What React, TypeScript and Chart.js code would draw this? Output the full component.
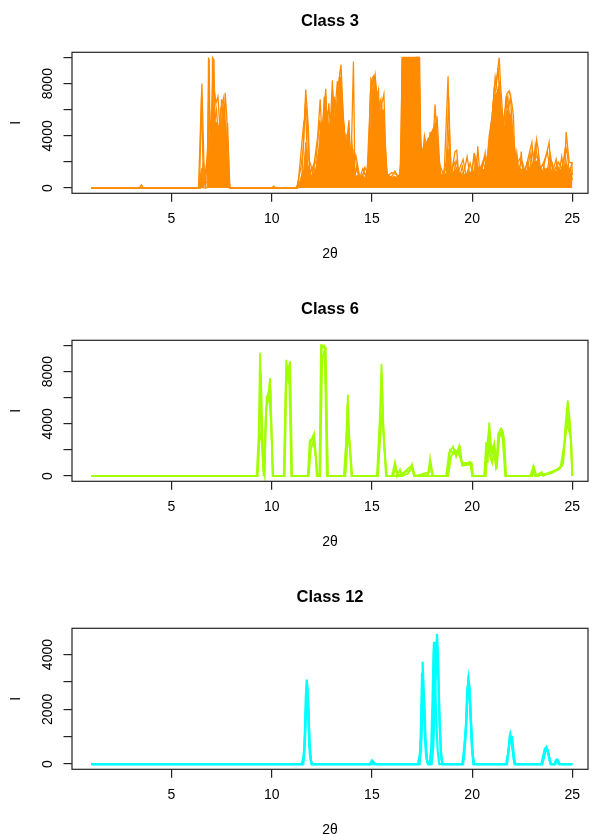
import React, { useEffect, useRef } from 'react';
import { Chart, registerables } from 'chart.js';

Chart.register(...registerables);

// ---------- axis ticks ----------
const X_TICKS = [5, 10, 15, 20, 25];
const Y_TICKS_BIG = [0, 2000, 4000, 6000, 8000, 10000];
const Y_LABELS_BIG = [0, 4000, 8000];
const Y_TICKS_SMALL = [0, 1000, 2000, 3000, 4000];
const Y_LABELS_SMALL = [0, 2000, 4000];

// ---------- Class 3 (pairs of [2θ, I]) ----------
const C3_FILL: number[][] = [
  [1, 0], [6.35, 0], [6.5, 1500], [6.6, 0], [6.78, 0], [6.85, 4000], [6.95, 3500], [7.05, 7000], [7.15, 5000],
  [7.3, 5000], [7.45, 4000], [7.55, 6000], [7.7, 5000], [7.8, 2000], [7.92, 0],
  [11.2, 0], [11.4, 500], [11.6, 1500], [11.7, 3500], [11.8, 1800], [12.0, 900], [12.2, 1500], [12.35, 3000],
  [12.45, 5000], [12.6, 5200], [12.7, 7000], [12.8, 4500], [12.95, 5200], [13.05, 7500], [13.15, 5000],
  [13.3, 7000], [13.45, 8500], [13.55, 5500], [13.7, 3500], [13.85, 4500], [13.95, 2000], [14.05, 3000],
  [14.15, 900], [14.4, 1000], [14.7, 800], [14.9, 3000], [15.0, 7500], [15.15, 8000], [15.3, 7000],
  [15.45, 5800], [15.6, 6000], [15.72, 1200], [16.0, 800], [16.4, 900], [16.5, 9000], [16.6, 10000],
  [17.35, 10000], [17.45, 3000], [17.6, 3000], [17.8, 3800], [18.0, 4200], [18.15, 5000], [18.3, 2800],
  [18.45, 1000], [18.7, 1100], [18.8, 3000], [18.9, 900], [19.2, 1500], [19.5, 1000], [19.8, 1100],
  [20.1, 1300], [20.3, 1600], [20.6, 1400], [20.8, 2800], [20.95, 5000], [21.1, 7000], [21.3, 7500],
  [21.45, 6000], [21.6, 4500], [21.75, 6000], [21.9, 5500], [22.05, 4000], [22.25, 1600], [22.5, 1400],
  [22.8, 1300], [23.0, 1900], [23.25, 2100], [23.5, 1300], [23.8, 1600], [24.1, 1200], [24.4, 1400],
  [24.7, 1900], [24.9, 1100], [25, 1200],
];
const C3_LINE_A: number[][] = [
  [1, 0], [3.4, 0], [3.5, 250], [3.6, 0], [6.35, 0], [6.52, 8000], [6.65, 300], [6.8, 500], [6.85, 10000],
  [6.93, 3500], [7.0, 1000], [7.05, 10000], [7.12, 9800], [7.2, 3000], [7.3, 5000], [7.4, 2000], [7.5, 6800],
  [7.56, 5800], [7.62, 3000], [7.68, 7300], [7.76, 5500], [7.85, 500], [7.95, 0], [10.0, 0], [10.1, 150],
  [10.2, 0], [11.2, 0], [11.5, 600], [11.7, 7550], [11.83, 4650], [11.9, 1000], [12.1, 1800], [12.2, 600],
  [12.35, 1500], [12.47, 4600], [12.55, 5000], [12.7, 7600], [12.8, 2500], [12.92, 4600], [13.03, 8250],
  [13.1, 3000], [13.2, 5500], [13.33, 8000], [13.46, 9450], [13.58, 5200], [13.7, 2950], [13.86, 5200],
  [13.95, 1200], [14.08, 9700], [14.15, 800], [14.25, 1800], [14.35, 600], [14.6, 1200], [14.8, 600],
  [14.95, 8300], [15.05, 7800], [15.16, 8700], [15.25, 7000], [15.33, 7540], [15.42, 3500], [15.5, 6500],
  [15.6, 7200], [15.7, 2000], [15.8, 500], [16.1, 900], [16.3, 600], [16.45, 1000], [16.5, 10000],
  [16.7, 9900], [16.85, 10000], [17.0, 9800], [17.2, 10000], [17.38, 10000], [17.45, 1500], [17.65, 3500],
  [17.8, 1000], [17.9, 4300], [18.0, 2000], [18.15, 6400], [18.23, 4300], [18.35, 1000], [18.6, 800],
  [18.8, 8560], [18.9, 600], [19.15, 2800], [19.23, 2900], [19.35, 700], [19.51, 1650], [19.65, 500],
  [19.8, 1300], [19.95, 600], [20.1, 2700], [20.2, 800], [20.28, 3200], [20.4, 700], [20.65, 2700],
  [20.75, 800], [20.98, 4550], [21.1, 7640], [21.23, 8430], [21.35, 10000], [21.43, 7600], [21.5, 6150],
  [21.6, 2500], [21.73, 7200], [21.85, 7450], [21.98, 6500], [22.06, 5500], [22.15, 1500], [22.23, 2700],
  [22.35, 900], [22.45, 2800], [22.55, 700], [22.98, 3500], [23.1, 1200], [23.22, 3700], [23.3, 2900],
  [23.45, 800], [23.84, 3500], [23.95, 900], [24.19, 2200], [24.3, 800], [24.47, 2400], [24.6, 900],
  [24.69, 4300], [24.84, 2000], [24.97, 1900], [25, 1000],
];
const C3_LINE_B: number[][] = [
  [1, 0], [6.4, 0], [6.5, 7000], [6.6, 0], [6.8, 2500], [6.88, 9900], [6.95, 500], [7.08, 9900], [7.15, 5000],
  [7.25, 6000], [7.35, 3500], [7.45, 6000], [7.6, 6900], [7.7, 2500], [7.8, 5000], [7.9, 0], [11.3, 0],
  [11.6, 5000], [11.75, 6000], [11.9, 1200], [12.2, 2000], [12.4, 5200], [12.5, 3000], [12.62, 7000],
  [12.75, 4000], [12.85, 6500], [13.0, 3000], [13.12, 7000], [13.25, 4500], [13.4, 8800], [13.5, 3500],
  [13.62, 4500], [13.75, 2000], [13.9, 3000], [14.05, 1000], [14.2, 2500], [14.4, 800], [14.55, 1500],
  [14.75, 800], [14.9, 6000], [15.0, 8400], [15.1, 8600], [15.2, 6500], [15.38, 6500], [15.55, 5800],
  [15.65, 2500], [15.75, 900], [16.0, 1200], [16.25, 1000], [16.45, 900], [16.55, 10000], [16.75, 10000],
  [16.95, 9700], [17.1, 10000], [17.3, 10000], [17.4, 2000], [17.55, 3000], [17.7, 1200], [17.85, 3800],
  [18.05, 4500], [18.2, 5000], [18.3, 3000], [18.45, 800], [18.7, 1500], [18.83, 7000], [18.95, 900],
  [19.1, 2000], [19.3, 1200], [19.55, 2200], [19.7, 900], [19.9, 1900], [20.05, 1000], [20.2, 2200],
  [20.35, 1000], [20.55, 2000], [20.7, 1200], [20.9, 3500], [21.05, 6500], [21.2, 7800], [21.3, 9200],
  [21.4, 6000], [21.55, 4000], [21.68, 6800], [21.8, 6000], [21.92, 7000], [22.0, 4000], [22.1, 3000],
  [22.3, 1500], [22.5, 2000], [22.7, 1000], [22.9, 2600], [23.05, 1500], [23.15, 3300], [23.35, 1500],
  [23.55, 1800], [23.7, 1000], [23.9, 2600], [24.05, 1200], [24.25, 1800], [24.4, 1000], [24.55, 2100],
  [24.72, 3000], [24.85, 1200], [25, 2000],
];
const C3_LINE_C: number[][] = [
  [1, 0], [6.45, 0], [6.6, 2000], [6.7, 0], [6.9, 6000], [7.0, 3000], [7.1, 8000], [7.22, 6500], [7.32, 7000],
  [7.42, 4500], [7.52, 5200], [7.65, 6500], [7.72, 3000], [7.82, 3500], [7.92, 0], [11.25, 0], [11.45, 1500],
  [11.58, 3000], [11.68, 6500], [11.78, 2500], [11.95, 1800], [12.05, 1100], [12.3, 4000], [12.42, 6800],
  [12.52, 3500], [12.65, 5500], [12.78, 5800], [12.9, 3500], [13.0, 6000], [13.15, 5800], [13.28, 8200],
  [13.38, 5000], [13.52, 6700], [13.65, 3800], [13.8, 4200], [13.92, 2500], [14.0, 3500], [14.12, 1500],
  [14.3, 1200], [14.5, 600], [14.65, 1600], [14.85, 900], [14.92, 7200], [15.08, 8500], [15.2, 7800],
  [15.3, 6000], [15.45, 6800], [15.58, 4500], [15.68, 3000], [15.78, 600], [15.95, 800], [16.15, 1300],
  [16.35, 700], [16.48, 2500], [16.52, 9800], [16.8, 10000], [17.05, 10000], [17.25, 9800], [17.35, 9900],
  [17.42, 4000], [17.52, 2200], [17.62, 4000], [17.75, 2800], [17.95, 4200], [18.1, 3500], [18.25, 5500],
  [18.38, 1800], [18.55, 1100], [18.75, 2200], [18.85, 4500], [18.95, 1500], [19.05, 800], [19.2, 2100],
  [19.4, 900], [19.6, 1300], [19.75, 2400], [19.9, 800], [20.0, 1600], [20.15, 2400], [20.3, 1100],
  [20.45, 1700], [20.6, 2300], [20.72, 1600], [20.85, 4000], [21.0, 5500], [21.15, 8500], [21.28, 7200],
  [21.38, 8200], [21.48, 4500], [21.62, 5800], [21.78, 7000], [21.88, 5200], [21.96, 5800], [22.1, 2200],
  [22.2, 1800], [22.4, 2300], [22.6, 1200], [22.75, 2000], [22.85, 1200], [23.0, 2900], [23.12, 2200],
  [23.28, 2500], [23.4, 1400], [23.6, 2100], [23.75, 2800], [23.88, 1500], [24.0, 1900], [24.12, 1000],
  [24.3, 2000], [24.5, 1400], [24.62, 2800], [24.75, 1300], [24.9, 1500], [25, 600],
];

// ---------- Class 6 ----------
const C6_LINE_A: number[][] = [
  [1, 0], [9.25, 0], [9.35, 3100], [9.42, 9450], [9.5, 3000], [9.58, 500], [9.65, 0], [9.72, 5000],
  [9.8, 6200], [9.86, 6550], [9.92, 7500], [10.0, 3000], [10.08, 0], [10.6, 0], [10.73, 8900], [10.8, 7800],
  [10.9, 8700], [11.0, 0], [11.8, 0], [11.9, 2750], [12.0, 2800], [12.12, 3250], [12.25, 0], [12.38, 0],
  [12.46, 10000], [12.55, 9900], [12.65, 9800], [12.75, 0], [13.6, 0], [13.75, 3500], [13.8, 6250],
  [13.85, 3500], [13.98, 0], [15.25, 0], [15.4, 4650], [15.48, 8600], [15.55, 4300], [15.7, 0], [16.0, 0],
  [16.15, 1050], [16.25, 0], [16.4, 500], [16.5, 0], [16.8, 200], [17.0, 900], [17.1, 0], [17.8, 100],
  [17.9, 1300], [18.0, 0], [18.7, 0], [18.85, 1800], [19.05, 2250], [19.2, 1500], [19.35, 2300],
  [19.48, 1000], [19.98, 1000], [20.05, 0], [20.6, 0], [20.7, 2600], [20.78, 1000], [20.85, 4100],
  [20.98, 1700], [21.1, 2500], [21.2, 500], [21.3, 3250], [21.45, 3650], [21.55, 3300], [21.68, 0],
  [22.9, 0], [23.05, 750], [23.15, 0], [23.47, 300], [23.55, 0], [23.9, 300], [24.3, 500], [24.55, 1000],
  [24.64, 3650], [24.77, 5800], [24.88, 4100], [25, 0],
];
const C6_LINE_B: number[][] = [
  [1, 0], [9.28, 0], [9.4, 3000], [9.46, 8000], [9.55, 2800], [9.62, 0], [9.75, 6000], [9.83, 5800],
  [9.9, 7000], [9.95, 6500], [10.05, 0], [10.65, 0], [10.75, 8500], [10.85, 7500], [10.92, 8800], [11.02, 0],
  [11.82, 0], [11.92, 2500], [12.05, 3000], [12.15, 2600], [12.28, 0], [12.4, 0], [12.5, 10000],
  [12.6, 10000], [12.7, 9800], [12.8, 0], [13.65, 0], [13.78, 5500], [13.86, 3200], [14.0, 0], [15.28, 0],
  [15.42, 4300], [15.5, 7800], [15.58, 3500], [15.72, 0], [16.05, 0], [16.2, 700], [16.3, 0], [16.6, 300],
  [16.9, 700], [17.05, 600], [17.15, 0], [17.85, 300], [17.95, 900], [18.05, 0], [18.75, 0], [18.9, 2000],
  [19.1, 1700], [19.25, 1900], [19.4, 2200], [19.5, 800], [19.95, 900], [20.02, 0], [20.65, 0],
  [20.75, 2300], [20.83, 3500], [20.92, 2000], [21.05, 2300], [21.18, 800], [21.35, 3000], [21.5, 3450],
  [21.6, 2800], [21.7, 0], [22.95, 0], [23.1, 500], [23.2, 0], [23.95, 200], [24.4, 600], [24.6, 2500],
  [24.72, 4000], [24.82, 3500], [24.92, 3000], [25, 0],
];
const C6_LINE_C: number[][] = [
  [1, 0], [9.3, 0], [9.38, 2800], [9.44, 3100], [9.52, 2500], [9.6, 0], [9.7, 4500], [9.78, 5800],
  [9.88, 6000], [9.97, 4000], [10.06, 0], [10.62, 0], [10.7, 6500], [10.78, 8000], [10.88, 7000],
  [10.98, 0], [11.85, 0], [11.95, 2000], [12.08, 2700], [12.2, 1500], [12.3, 0], [12.42, 0], [12.52, 9000],
  [12.62, 9500], [12.72, 6000], [12.8, 0], [13.68, 0], [13.82, 3400], [13.92, 2000], [14.02, 0], [15.3, 0],
  [15.45, 3800], [15.52, 5000], [15.62, 2000], [15.75, 0], [16.5, 0], [16.7, 400], [16.85, 300],
  [17.0, 700], [17.1, 0], [18.8, 0], [18.95, 1500], [19.15, 2000], [19.3, 1800], [19.45, 1200],
  [19.6, 900], [19.9, 1100], [20.0, 0], [20.68, 0], [20.8, 3000], [20.9, 1500], [21.0, 1000],
  [21.12, 2200], [21.25, 1000], [21.38, 3400], [21.52, 2900], [21.65, 0], [23.0, 0], [23.1, 600],
  [23.2, 0], [24.0, 300], [24.5, 800], [24.66, 3000], [24.75, 4800], [24.86, 3600], [24.95, 2500], [25, 0],
];

// ---------- Class 12 ----------
const C12_LINE_A: number[][] = [
  [1, 0], [11.5, 0], [11.6, 300], [11.65, 1000], [11.7, 2400], [11.75, 3090], [11.8, 2600], [11.85, 1300],
  [11.9, 400], [11.97, 50], [12.02, 0], [14.9, 0], [15.0, 130], [15.1, 40], [15.2, 0],
  [17.3, 0], [17.4, 400], [17.45, 1500], [17.5, 3300], [17.53, 3740], [17.57, 3000], [17.62, 1500],
  [17.7, 300], [17.8, 0], [17.88, 0], [17.96, 600], [18.02, 2200], [18.07, 4000], [18.1, 4470],
  [18.14, 3700], [18.2, 1800], [18.28, 500], [18.36, 0], [19.5, 0], [19.6, 300], [19.68, 1200],
  [19.75, 2600], [19.82, 3110], [19.88, 2700], [19.95, 1500], [20.02, 400], [20.1, 0], [21.7, 0],
  [21.8, 400], [21.87, 1000], [21.9, 1100], [21.95, 900], [22.0, 950], [22.08, 300], [22.15, 0],
  [23.45, 0], [23.55, 300], [23.62, 550], [23.7, 620], [23.75, 500], [23.82, 350], [23.9, 80],
  [23.97, 0], [24.1, 0], [24.18, 150], [24.25, 170], [24.32, 0], [25, 0],
];
const C12_LINE_B: number[][] = [
  [1, 0], [11.55, 0], [11.63, 500], [11.7, 1800], [11.76, 2900], [11.82, 2300], [11.88, 900],
  [11.95, 150], [12.02, 0], [17.35, 0], [17.45, 500], [17.52, 2000], [17.57, 2750], [17.62, 2200],
  [17.68, 800], [17.76, 100], [17.82, 0], [17.98, 0], [18.06, 600], [18.13, 2000], [18.19, 3800],
  [18.25, 4750], [18.3, 4000], [18.36, 2000], [18.44, 500], [18.52, 0], [19.52, 0], [19.6, 600],
  [19.7, 1400], [19.78, 2800], [19.84, 2900], [19.9, 2200], [19.98, 800], [20.06, 0], [21.72, 0],
  [21.82, 500], [21.88, 900], [21.94, 960], [22.0, 700], [22.08, 150], [22.14, 0], [23.5, 0],
  [23.58, 250], [23.66, 480], [23.72, 530], [23.78, 450], [23.86, 150], [23.93, 0], [24.15, 0],
  [24.22, 100], [24.3, 120], [24.38, 0], [25, 0],
];
const C12_LINE_C: number[][] = [
  [1, 0], [11.58, 0], [11.66, 800], [11.72, 2200], [11.78, 2800], [11.83, 2000], [11.9, 600],
  [11.98, 0], [14.95, 0], [15.05, 100], [15.15, 0], [17.38, 0], [17.46, 1000], [17.51, 2600],
  [17.55, 3000], [17.6, 2200], [17.66, 900], [17.75, 100], [17.82, 0], [17.92, 0], [18.0, 800],
  [18.06, 2500], [18.1, 3500], [18.15, 3000], [18.2, 3300], [18.24, 4300], [18.3, 3600], [18.38, 1400],
  [18.46, 200], [18.52, 0], [19.55, 0], [19.65, 800], [19.74, 2000], [19.8, 3000], [19.86, 2800],
  [19.93, 1600], [20.0, 500], [20.08, 0], [21.74, 0], [21.83, 600], [21.9, 1000], [21.96, 850],
  [22.04, 400], [22.12, 0], [23.48, 0], [23.56, 200], [23.64, 450], [23.7, 580], [23.77, 520],
  [23.84, 250], [23.92, 0], [24.12, 0], [24.2, 120], [24.28, 90], [24.35, 0], [25, 0],
];

const FONT = "'Liberation Sans', Arial, Helvetica, sans-serif";
const W = 592;
const H = 288;

type Panel = {
  title: string;
  color: string;
  lineWidth: number;
  fills: number[][][];
  lines: number[][][];
  yMin: number;
  yMax: number;
  yTicks: number[];
  yLabels: number[];
  top: number;
};

const PANELS: Panel[] = [
  { title: 'Class 3', color: '#FF8B00', lineWidth: 1.3, fills: [C3_FILL], lines: [C3_LINE_A, C3_LINE_B, C3_LINE_C],
    yMin: -400, yMax: 10400, yTicks: Y_TICKS_BIG, yLabels: Y_LABELS_BIG, top: -10 },
  { title: 'Class 6', color: '#A2FF00', lineWidth: 1.8, fills: [], lines: [C6_LINE_A, C6_LINE_B, C6_LINE_C],
    yMin: -400, yMax: 10400, yTicks: Y_TICKS_BIG, yLabels: Y_LABELS_BIG, top: 278 },
  { title: 'Class 12', color: '#00FFFF', lineWidth: 2.2, fills: [], lines: [C12_LINE_A, C12_LINE_B, C12_LINE_C],
    yMin: -190, yMax: 4960, yTicks: Y_TICKS_SMALL, yLabels: Y_LABELS_SMALL, top: 566 },
];

const boxPlugin = {
  id: 'rbox',
  afterDraw(chart: any) {
    const { ctx, chartArea } = chart;
    ctx.save();
    ctx.strokeStyle = '#222';
    ctx.lineWidth = 1.2;
    ctx.strokeRect(chartArea.left, chartArea.top, chartArea.right - chartArea.left, chartArea.bottom - chartArea.top);
    ctx.restore();
  },
};

const toXY = (pts: number[][]) => pts.map(([x, y]) => ({ x, y }));

function PanelChart({ panel }: { panel: Panel }) {
  const ref = useRef<HTMLCanvasElement>(null);
  useEffect(() => {
    if (!ref.current) return;
    const datasets: any[] = [];
    panel.fills.forEach((f) =>
      datasets.push({ data: toXY(f), borderColor: panel.color, backgroundColor: panel.color, borderWidth: 1,
        fill: 'origin', pointRadius: 0, tension: 0 }));
    panel.lines.forEach((l) =>
      datasets.push({ data: toXY(l), borderColor: panel.color, backgroundColor: panel.color,
        borderWidth: panel.lineWidth, fill: false, pointRadius: 0, tension: 0 }));
    const tickFont = { family: FONT, size: 14 };
    const grid = { drawOnChartArea: false, drawTicks: true, tickLength: 8.5, color: '#222', lineWidth: 1.2 };
    const chart = new Chart(ref.current, {
      type: 'line',
      data: { datasets },
      plugins: [boxPlugin],
      options: {
        animation: false,
        responsive: false,
        devicePixelRatio: 1,
        layout: { padding: { left: 0, right: 4, top: 0, bottom: 0 } },
        plugins: {
          legend: { display: false },
          tooltip: { enabled: false },
          title: {
            display: true, text: panel.title, fullSize: false, color: '#000',
            font: { family: FONT, size: 16.5, weight: 'bold' },
            padding: { top: 21.3, bottom: 21.2 },
          },
        },
        scales: {
          x: {
            type: 'linear', min: 0.04, max: 25.78,
            afterBuildTicks: (s: any) => { s.ticks = X_TICKS.map((v) => ({ value: v })); },
            afterFit: (s: any) => { s.height = H - 203.3; },
            grid, border: { display: false },
            ticks: { font: tickFont, color: '#000', padding: 8.8, maxRotation: 0, autoSkip: false,
              callback: (v: any) => String(v) },
            title: { display: true, text: '2θ', color: '#000', font: tickFont, padding: { top: 0, bottom: 15.5 } },
          },
          y: {
            type: 'linear', min: panel.yMin, max: panel.yMax,
            afterBuildTicks: (s: any) => { s.ticks = panel.yTicks.map((v) => ({ value: v })); },
            afterFit: (s: any) => { s.width = 72; },
            grid, border: { display: false },
            ticks: { font: tickFont, color: '#000', padding: -0.4, minRotation: 90, maxRotation: 90,
              crossAlign: 'center', autoSkip: false,
              callback: (v: any) => (panel.yLabels.includes(v) ? String(v) : '') },
            title: { display: true, text: 'I', color: '#000', font: tickFont, padding: { top: 8.1, bottom: 0 } },
          },
        },
      } as any,
    });
    return () => chart.destroy();
  }, [panel]);
  return (
    <canvas ref={ref} width={W} height={H}
      style={{ position: 'absolute', left: 0, top: panel.top, width: W, height: H }} />
  );
}

export default function App() {
  return (
    <div style={{ position: 'fixed', left: 0, top: 0, width: W, height: 834, overflow: 'hidden', background: '#fff' }}>
      {PANELS.map((p) => <PanelChart key={p.title} panel={p} />)}
    </div>
  );
}
